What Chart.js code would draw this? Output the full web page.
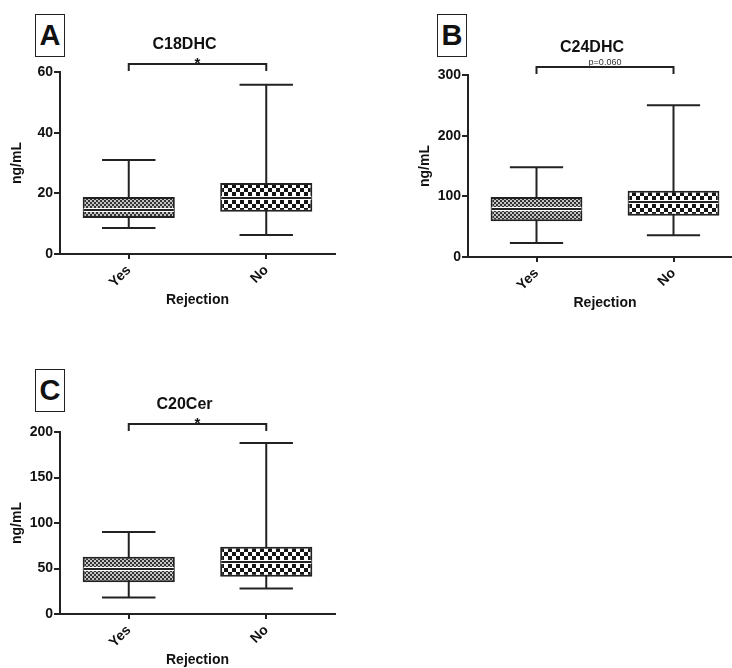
<!DOCTYPE html>
<html>
<head>
<meta charset="utf-8">
<script src="https://cdn.jsdelivr.net/npm/chart.js@4.4.1/dist/chart.umd.min.js"></script>
<style>
  html, body { margin: 0; padding: 0; background: #fff; }
  body { width: 732px; height: 668px; overflow: hidden; position: relative; font-family: "Liberation Sans", Arial, sans-serif; }
  canvas { position: absolute; }
  .tag {
    position: absolute; width: 28px; height: 41px; border: 1.5px solid #222;
    font: bold 29px "Liberation Sans", Arial, sans-serif; color: #111;
    text-align: center; line-height: 41px;
  }
</style>
</head>
<body>
<div class="tag" style="left:35px; top:14px;">A</div>
<div class="tag" style="left:437px; top:14px;">B</div>
<div class="tag" style="left:35px; top:369px;">C</div>
<canvas id="chartA" width="366" height="334" style="left:0; top:0;"></canvas>
<canvas id="chartB" width="350" height="337" style="left:408px; top:0;"></canvas>
<canvas id="chartC" width="366" height="334" style="left:0; top:360px;"></canvas>
<script>
// categories shared by all three panels
const categories = ["Yes", "No"];

// C18DHC (panel A)
const c18Min = [8.6, 6.3];
const c18Q1 = [11.9, 13.9];
const c18Median = [14.4, 18.5];
const c18Q3 = [18.8, 23.4];
const c18Max = [31, 55.8];
const c18Ticks = [0, 20, 40, 60];

// C24DHC (panel B)
const c24Min = [23, 36];
const c24Q1 = [59, 68];
const c24Median = [79, 90];
const c24Q3 = [99, 109];
const c24Max = [148, 250];
const c24Ticks = [0, 100, 200, 300];

// C20Cer (panel C)
const c20Min = [18, 28];
const c20Q1 = [35, 41];
const c20Median = [49, 57];
const c20Q3 = [63, 74];
const c20Max = [90, 188];
const c20Ticks = [0, 50, 100, 150, 200];

const FONT = "'Liberation Sans', Arial, sans-serif";
const INK = "#222";

function makePattern(sq, dark, light) {
    const c = document.createElement("canvas");
    c.width = c.height = sq * 2;
    const g = c.getContext("2d");
    g.fillStyle = light;
    g.fillRect(0, 0, sq * 2, sq * 2);
    g.fillStyle = dark;
    g.fillRect(0, 0, sq, sq);
    g.fillRect(sq, sq, sq, sq);
    return g.createPattern(c, "repeat");
}

const finePattern = makePattern(2, "#333333", "#c4c4c4");
const coarsePattern = makePattern(4, "#151515", "#ffffff");

// whiskers, medians, title and significance bracket
const boxExtras = {
    id: "boxExtras",
    beforeDatasetsDraw(chart, args, opts) {
        const { ctx, scales: { x, y } } = chart;
        const meta = chart.getDatasetMeta(0);
        ctx.save();
        ctx.strokeStyle = INK;
        ctx.lineWidth = 2;
        opts.min.forEach((v, i) => {
            const px = x.getPixelForValue(i);
            const half = meta.data[i].width * 0.29;
            const top = y.getPixelForValue(opts.max[i]);
            const bot = y.getPixelForValue(v);
            ctx.beginPath();
            ctx.moveTo(px, top);
            ctx.lineTo(px, bot);
            ctx.moveTo(px - half, top);
            ctx.lineTo(px + half, top);
            ctx.moveTo(px - half, bot);
            ctx.lineTo(px + half, bot);
            ctx.stroke();
        });
        ctx.restore();
    },
    afterDatasetsDraw(chart, args, opts) {
        const { ctx, scales: { y } } = chart;
        const meta = chart.getDatasetMeta(0);
        ctx.save();
        opts.median.forEach((v, i) => {
            const bar = meta.data[i];
            const py = Math.round(y.getPixelForValue(v));
            const l = bar.x - bar.width / 2 + 1;
            const r = bar.x + bar.width / 2 - 1;
            ctx.fillStyle = "#fff";
            ctx.fillRect(l, py - 2, r - l, 4);
            ctx.fillStyle = INK;
            ctx.fillRect(l, py - 1, r - l, 2);
        });
        ctx.restore();
    },
    afterDraw(chart, args, opts) {
        const { ctx, chartArea, scales: { x } } = chart;
        const x1 = x.getPixelForValue(0);
        const x2 = x.getPixelForValue(1);
        const by = chartArea.top - 8;
        ctx.save();
        // title
        ctx.fillStyle = "#111";
        ctx.font = "bold 16px " + FONT;
        ctx.textAlign = "center";
        ctx.textBaseline = "middle";
        ctx.fillText(opts.title, (chartArea.left + chartArea.right) / 2 - 13, chartArea.top - 27);
        // bracket
        ctx.strokeStyle = INK;
        ctx.lineWidth = 2;
        ctx.beginPath();
        ctx.moveTo(x1, by + 7);
        ctx.lineTo(x1, by);
        ctx.lineTo(x2, by);
        ctx.lineTo(x2, by + 7);
        ctx.stroke();
        // significance label
        ctx.textBaseline = "alphabetic";
        if (opts.sig === "*") {
            ctx.font = "bold 15px " + FONT;
            ctx.fillText(opts.sig, (x1 + x2) / 2, by + 4);
        } else {
            ctx.font = "9px " + FONT;
            ctx.fillStyle = "#333";
            ctx.fillText(opts.sig, (x1 + x2) / 2, by - 2);
        }
        ctx.restore();
    },
};

function makeChart(id, q1, q3, median, min, max, ticks, title, sig, top, right) {
    const ctx = document.getElementById(id).getContext("2d");
    return new Chart(ctx, {
        type: "bar",
        data: {
            labels: categories,
            datasets: [
                {
                    data: categories.map((c, i) => [q1[i], q3[i]]),
                    backgroundColor: [finePattern, coarsePattern],
                    borderColor: INK,
                    borderWidth: 2,
                    borderSkipped: false,
                    barPercentage: 0.67,
                    categoryPercentage: 1,
                },
            ],
        },
        options: {
            responsive: false,
            animation: false,
            devicePixelRatio: 1,
            layout: { padding: { top: top, right: right, left: 0, bottom: 0 } },
            plugins: {
                legend: { display: false },
                tooltip: { enabled: false },
                boxExtras: { min: min, max: max, median: median, title: title, sig: sig },
            },
            scales: {
                x: {
                    offset: true,
                    grid: { offset: false, drawOnChartArea: false, drawTicks: true, tickLength: 5, color: INK, lineWidth: 2 },
                    border: { color: INK, width: 2 },
                    ticks: {
                        color: "#111",
                        font: { family: FONT, size: 14, weight: "bold" },
                        minRotation: 45,
                        maxRotation: 45,
                        padding: 3,
                    },
                    title: {
                        display: true,
                        text: "Rejection",
                        color: "#111",
                        font: { family: FONT, size: 14, weight: "bold" },
                        padding: { top: 0, bottom: 25 },
                    },
                    afterFit(scale) {
                        scale.height = 80;
                    },
                },
                y: {
                    min: ticks[0],
                    max: ticks[ticks.length - 1],
                    afterBuildTicks(scale) {
                        scale.ticks = ticks.map((v) => ({ value: v }));
                    },
                    grid: { drawOnChartArea: false, drawTicks: true, tickLength: 6, color: INK, lineWidth: 2 },
                    border: { color: INK, width: 2 },
                    ticks: {
                        color: "#111",
                        font: { family: FONT, size: 14, weight: "bold" },
                        padding: 1,
                    },
                    title: {
                        display: true,
                        text: "ng/mL",
                        color: "#111",
                        font: { family: FONT, size: 14, weight: "bold" },
                        padding: { top: 9, bottom: 0 },
                    },
                    afterFit(scale) {
                        scale.width = 60;
                    },
                },
            },
        },
        plugins: [boxExtras],
    });
}

makeChart("chartA", c18Q1, c18Q3, c18Median, c18Min, c18Max, c18Ticks, "C18DHC", "*", 72, 31);
makeChart("chartB", c24Q1, c24Q3, c24Median, c24Min, c24Max, c24Ticks, "C24DHC", "p=0.060", 75, 16);
makeChart("chartC", c20Q1, c20Q3, c20Median, c20Min, c20Max, c20Ticks, "C20Cer", "*", 72, 31);
</script>
</body>
</html>
